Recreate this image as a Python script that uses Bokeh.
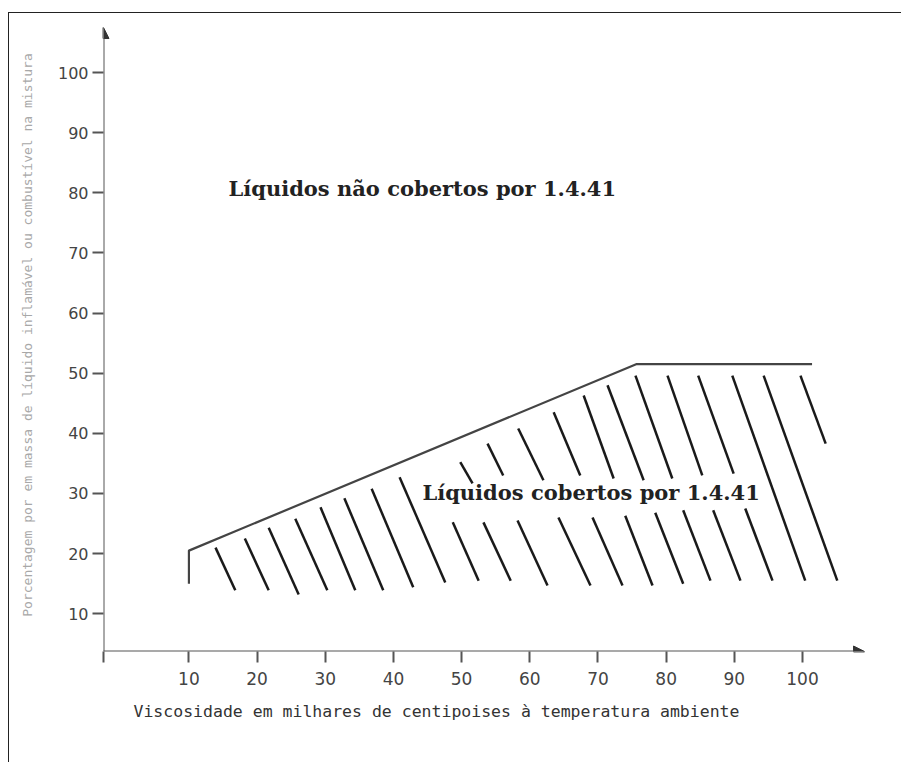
from bokeh.plotting import figure
from bokeh.models import Range1d, FixedTicker, Arrow, NormalHead, Title
from bokeh.core.properties import value
from bokeh.embed import file_html
from bokeh.resources import INLINE

# ---- data ----
x_ticks = [10, 20, 30, 40, 50, 60, 70, 80, 90, 100]
y_ticks = [10, 20, 30, 40, 50, 60, 70, 80, 90, 100]

# boundary line (viscosity, % mass)
limit_x = [10, 10, 75.6, 101.4]
limit_y = [15, 20.5, 51.5, 51.5]

# hatching segments (start/end points)
hatch_x0 = [13.9, 18.2, 21.7, 25.6, 29.3, 32.8, 36.8, 40.9,
            49.8, 48.7, 53.8, 53.2, 58.3, 58.2, 63.5, 64.2, 67.9, 69.2,
            71.4, 74.0, 75.5, 78.4, 80.2, 82.5, 84.7, 86.9, 89.7, 91.6, 94.3, 99.7]
hatch_y0 = [21.0, 22.5, 24.3, 25.8, 27.7, 29.2, 30.8, 32.7,
            35.2, 25.2, 38.3, 25.2, 40.8, 25.5, 43.5, 26.0, 46.3, 26.0,
            48.0, 26.3, 49.6, 26.8, 49.6, 27.2, 49.6, 27.2, 49.6, 27.5, 49.6, 49.6]
hatch_x1 = [16.8, 21.7, 26.1, 30.3, 34.4, 38.5, 42.9, 47.6,
            51.6, 52.5, 56.1, 57.2, 62.0, 62.6, 67.4, 68.9, 72.3, 73.6,
            76.7, 78.0, 80.9, 82.5, 85.3, 86.5, 89.9, 90.9, 100.4, 95.6, 105.1, 103.4]
hatch_y1 = [13.9, 13.9, 13.2, 13.9, 13.9, 13.9, 14.4, 15.2,
            31.7, 15.5, 33.0, 15.5, 32.2, 14.7, 33.0, 14.7, 32.5, 14.7,
            32.2, 14.7, 32.5, 15.0, 33.0, 15.5, 33.3, 15.5, 15.5, 15.5, 15.5, 38.3]

region_text = ["Líquidos não cobertos por 1.4.41", "Líquidos cobertos por 1.4.41"]
region_x = [15.8, 44.25]
region_y = [80.7, 30.2]

x_title = "Viscosidade em milhares de centipoises à temperatura ambiente"
y_title = "Porcentagem por em massa de líquido inflamável ou combustível na mistura"

x_start, x_end = -2.53, 111
y_start, y_end = 3.72, 109
x_arrow_from, x_arrow_to = -4.0, 109.1
y_arrow_to = 107.5

# ---- figure ----
p = figure(frame_width=774, frame_height=633,
           x_range=Range1d(x_start, x_end), y_range=Range1d(y_start, y_end),
           output_backend="svg", toolbar_location=None,
           min_border_left=94, min_border_top=5, min_border_bottom=111,
           min_border_right=24, background_fill_color="white",
           border_fill_color="white")
p.margin = (12, 0, 0, 8)
p.styles = {"border-top": "1px solid #222", "border-left": "1px solid #222"}
p.outline_line_color = None
p.grid.visible = False

axis_color = "#555555"
p.xaxis.ticker = FixedTicker(ticks=[x_start] + x_ticks)
p.xaxis.major_label_overrides = {x_start: ""}
p.yaxis.ticker = FixedTicker(ticks=y_ticks)
for ax in (p.xaxis[0], p.yaxis[0]):
    ax.axis_line_color = None
    ax.major_tick_line_color = axis_color
    ax.major_tick_line_width = 2
    ax.major_tick_in = 0
    ax.major_tick_out = 11
    ax.minor_tick_line_color = None
    ax.major_label_text_font = "DejaVu Sans"
    ax.major_label_text_color = "#444444"

p.xaxis.major_label_text_font_size = "17px"
p.xaxis.major_label_standoff = 9
p.yaxis.major_label_text_font_size = "16px"
p.yaxis.major_label_standoff = 4

p.yaxis.axis_label = y_title
p.yaxis.axis_label_text_font = "DejaVu Sans Mono"
p.yaxis.axis_label_text_font_style = "normal"
p.yaxis.axis_label_text_font_size = "13px"
p.yaxis.axis_label_text_color = "#a8a8a8"
p.yaxis.axis_label_standoff = 20

p.add_layout(Title(text=x_title, align="left", offset=30,
                   text_font="DejaVu Sans Mono", text_font_style="normal",
                   text_font_size="16.5px", text_color="#333333", standoff=25),
             "below")

# axes with arrows
p.add_layout(Arrow(x_start=x_arrow_from, y_start=y_start, x_end=x_arrow_to, y_end=y_start,
                   line_color=axis_color, line_width=2,
                   end=NormalHead(size=11, fill_color="#333333", line_color="#333333")))
p.add_layout(Arrow(x_start=x_start, y_start=y_start, x_end=x_start, y_end=y_arrow_to,
                   line_color=axis_color, line_width=2,
                   end=NormalHead(size=11, fill_color="#333333", line_color="#333333")))

p.line(limit_x, limit_y, line_color="#444444", line_width=2.2)
p.segment(hatch_x0, hatch_y0, hatch_x1, hatch_y1, line_color="#1a1a1a", line_width=2.5)

p.text(region_x, region_y, text=region_text, text_font=value("DejaVu Serif"),
       text_font_style="bold", text_font_size="21px", text_color="#222222",
       text_baseline="middle", text_align="left")

open("out.html", "w").write(file_html(p, INLINE))
